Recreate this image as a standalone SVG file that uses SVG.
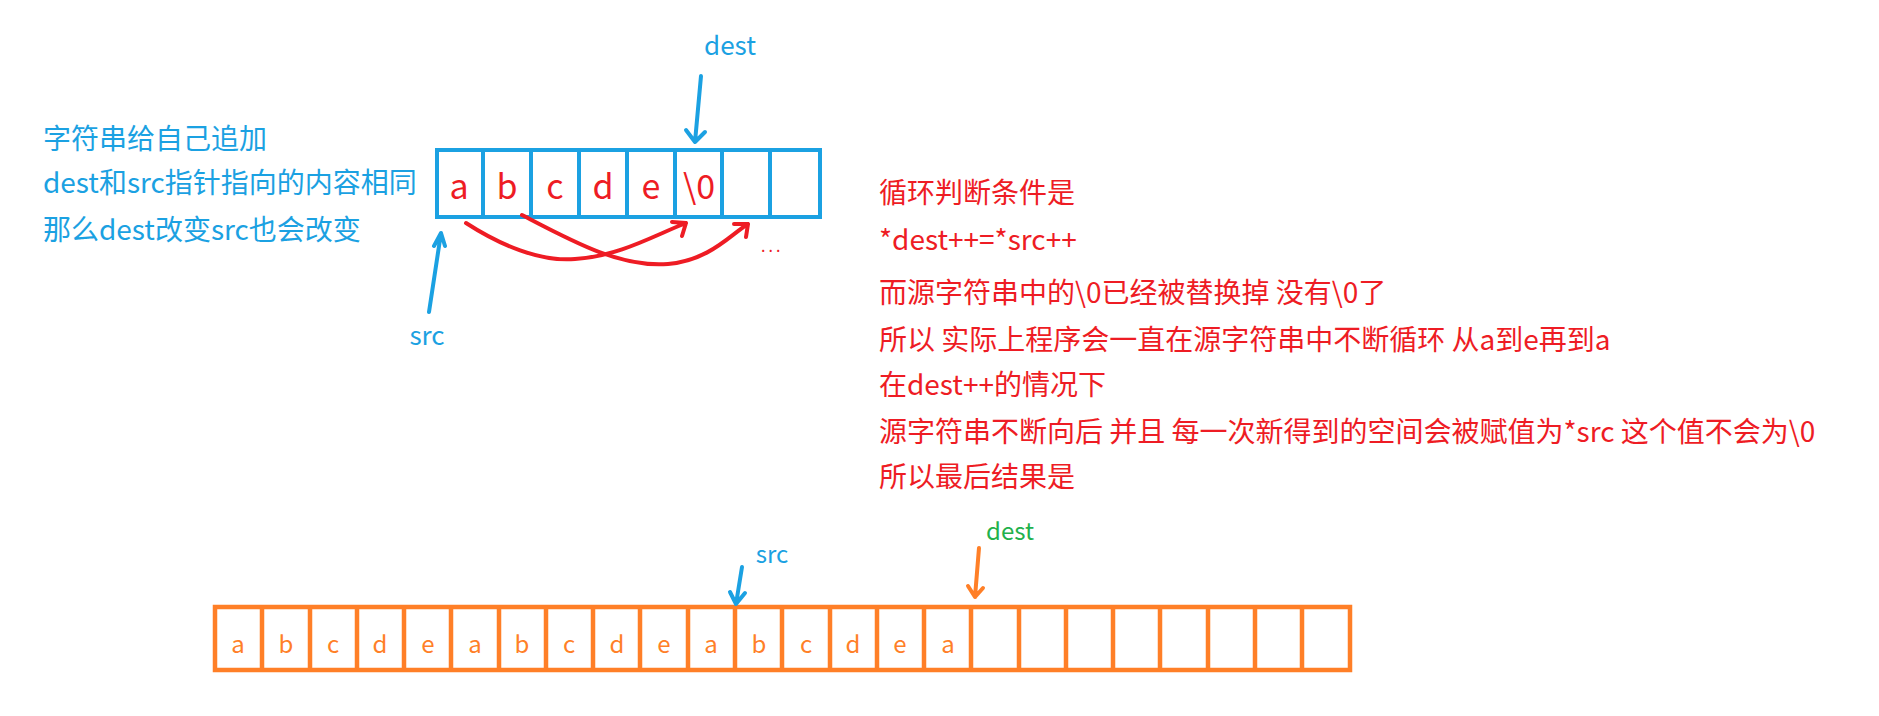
<svg xmlns="http://www.w3.org/2000/svg" width="1879" height="716" viewBox="0 0 1879 716">
<style>
text{font-family:"Microsoft YaHei","Noto Sans CJK SC","Noto Sans",sans-serif}
.blue{fill:#1ba1e2}.red{fill:#ee1c24}.org{fill:#ff7f27}.grn{fill:#22b14c}
.cjk{font-size:28px}
.cell{fill:none;stroke:#1ba1e2;stroke-width:4}
.ocell{fill:none;stroke:#ff7f27;stroke-width:4.5}
.bl{stroke:#1ba1e2;stroke-width:4;fill:none;stroke-linecap:round;stroke-linejoin:round}
.rd{stroke:#ee1c24;stroke-width:4;fill:none;stroke-linecap:round;stroke-linejoin:round}
.or{stroke:#ff7f27;stroke-width:4;fill:none;stroke-linecap:round;stroke-linejoin:round}
.big{font-size:34px;text-anchor:middle}
.sm{font-size:24px;text-anchor:middle}
</style>
<g id="note-left" class="blue cjk">
<text x="43" y="149">字符串给自己追加</text>
<text x="43" y="193">dest和src指针指向的内容相同</text>
<text x="43" y="240">那么dest改变src也会改变</text>
</g>
<g id="array-top">
<rect class="cell" x="437" y="150" width="383" height="67"/>
<path class="cell" d="M483 150V217M531 150V217M579 150V217M627 150V217M675 150V217M722 150V217M770 150V217"/>
<g class="red big">
<text x="459" y="199">a</text><text x="507" y="199">b</text><text x="555" y="199">c</text><text x="603" y="199">d</text><text x="651" y="199">e</text><text x="699" y="199">\0</text>
</g>
<text class="red" x="761" y="252" font-size="16" letter-spacing="3">...</text>
</g>
<g id="label-dest-top"><text class="blue" x="730" y="55" font-size="26" text-anchor="middle">dest</text></g>
<g id="label-src-top"><text class="blue" x="427" y="345" font-size="26" text-anchor="middle">src</text></g>
<g id="note-right" class="red cjk">
<text x="879" y="203">循环判断条件是</text>
<text x="879" y="250">*dest++=*src++</text>
<text x="879" y="303">而源字符串中的\0已经被替换掉 没有\0了</text>
<text x="879" y="350">所以 实际上程序会一直在源字符串中不断循环 从a到e再到a</text>
<text x="879" y="395">在dest++的情况下</text>
<text x="879" y="442">源字符串不断向后 并且 每一次新得到的空间会被赋值为*src 这个值不会为\0</text>
<text x="879" y="487">所以最后结果是</text>
</g>
<g id="array-bottom">
<rect class="ocell" x="215" y="607" width="1135" height="63"/>
<path class="ocell" d="M262 607V670M310 607V670M357 607V670M404 607V670M451 607V670M499 607V670M546 607V670M593 607V670M640 607V670M688 607V670M735 607V670M782 607V670M830 607V670M877 607V670M924 607V670M971 607V670M1019 607V670M1066 607V670M1113 607V670M1160 607V670M1208 607V670M1255 607V670M1302 607V670"/>
<g class="org sm">
<text x="238" y="653">a</text><text x="286" y="653">b</text><text x="333" y="653">c</text><text x="380" y="653">d</text><text x="428" y="653">e</text>
<text x="475" y="653">a</text><text x="522" y="653">b</text><text x="569" y="653">c</text><text x="617" y="653">d</text><text x="664" y="653">e</text>
<text x="711" y="653">a</text><text x="759" y="653">b</text><text x="806" y="653">c</text><text x="853" y="653">d</text><text x="900" y="653">e</text>
<text x="948" y="653">a</text>
</g>
</g>
<g id="label-src-bottom"><text class="blue" x="772" y="563" font-size="24" text-anchor="middle">src</text></g>
<g id="label-dest-bottom"><text class="grn" x="1010" y="540" font-size="24" text-anchor="middle">dest</text></g>
<g id="connectors">
<path class="bl" d="M701 76L695 142M686 130L695 142L705 132"/>
<path class="bl" d="M429 312L441 233M434 246L441 233L445 246"/>
<path class="rd" d="M466 223C500 245 540 262 575 259C620 256 655 235 686 223M672 222L686 223L682 236"/>
<path class="rd" d="M522 215C570 240 620 268 668 264C710 260 730 235 748 224M734 224L748 224L746 237"/>
<path class="bl" d="M742 567L736 604M730 592L736 604L745 593"/>
<path class="or" d="M979 548L975 597M968 586L975 597L983 588"/>
</g>
</svg>
